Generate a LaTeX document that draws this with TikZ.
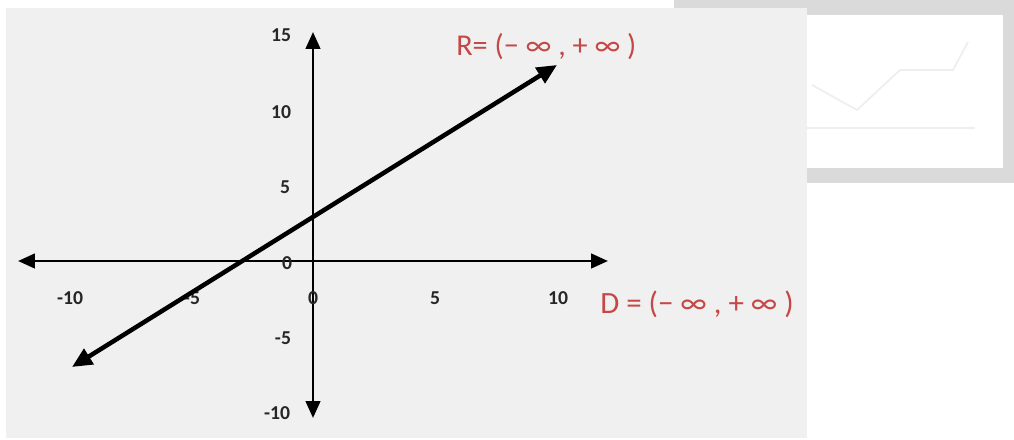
\documentclass[tikz,border=0pt]{standalone}
\usepackage{fontspec}
\setmainfont{Carlito}
\usepackage{tikz}
\usetikzlibrary{arrows.meta,positioning}
\definecolor{panelbg}{RGB}{240,240,240}
\definecolor{scanbg}{RGB}{218,218,218}
\definecolor{ghost}{RGB}{238,238,238}
\definecolor{domred}{RGB}{196,72,70}
\tikzset{
  axis/.style={-{Triangle[length=4.2mm,width=3.6mm]},line width=1.9pt,black},
  graphline/.style={{Triangle[length=5mm,width=4.4mm]}-{Triangle[length=5mm,width=4.4mm]},
                    line width=3.2pt,black},
  ticklbl/.style={font=\fontsize{14}{16}\selectfont\bfseries,inner sep=0pt,text=black!85},
  domlbl/.style={font=\fontsize{22}{24}\selectfont,text=domred,inner sep=0pt,anchor=west},
  rnglbl/.style={font=\fontsize{21.5}{23}\selectfont,text=domred,inner sep=0pt,anchor=west},
}

\begin{document}
\begin{tikzpicture}[x=0.025cm,y=-0.025cm]
  \useasboundingbox (0,0) rectangle (1014,440);
  % scanned page behind the panel
  \fill[scanbg] (674,0) rectangle (1014,183);
  \fill[white] (807,15) rectangle (1003,168);
  \draw[ghost,line width=1.2pt] (812,85) -- (857,110) -- (900,70) -- (953,70) -- (968,42);
  \draw[ghost,line width=1.2pt] (807,128) -- (975,128);
  \fill[panelbg] (6,8) rectangle (807,438);

  % axes
  \coordinate (o) at (313,261);
  \coordinate (xl) at (18,261);  \coordinate (xr) at (608,261);
  \coordinate (yt) at (313,32);  \coordinate (yb) at (313,418);
  \draw[axis] (o) -- (xl);
  \draw[axis] (o) -- (xr);
  \draw[axis] (o) -- (yt);
  \draw[axis] (o) -- (yb);

  % tick labels
  \node[ticklbl] (y15) at (281,35) {15};
  \node[ticklbl] (y10) at (281,112) {10};
  \node[ticklbl] (y5) at (285,187) {5};
  \node[ticklbl] (y0) at (287,263) {0};
  \node[ticklbl] (ym5) at (283,338) {-5};
  \node[ticklbl] (ym10) at (277,413) {-10};
  \node[ticklbl] (xm10) at (70,298) {-10};
  \node[ticklbl] (xm5) at (192,298) {-5};
  \node[ticklbl] (x0) at (313,298) {0};
  \node[ticklbl] (x5) at (435,298) {5};
  \node[ticklbl] (x10) at (558,298) {10};

  % y = x + 3
  \coordinate (lo) at (72,367);
  \coordinate (hi) at (557,65);
  \draw[graphline] (lo) -- (hi);

  \node[rnglbl] (rng) at (456,47) {R= (− ∞ , + ∞ )};
  \node[domlbl] (dom) at (600,304) {D = (− ∞ , + ∞ )};
\end{tikzpicture}
\end{document}
